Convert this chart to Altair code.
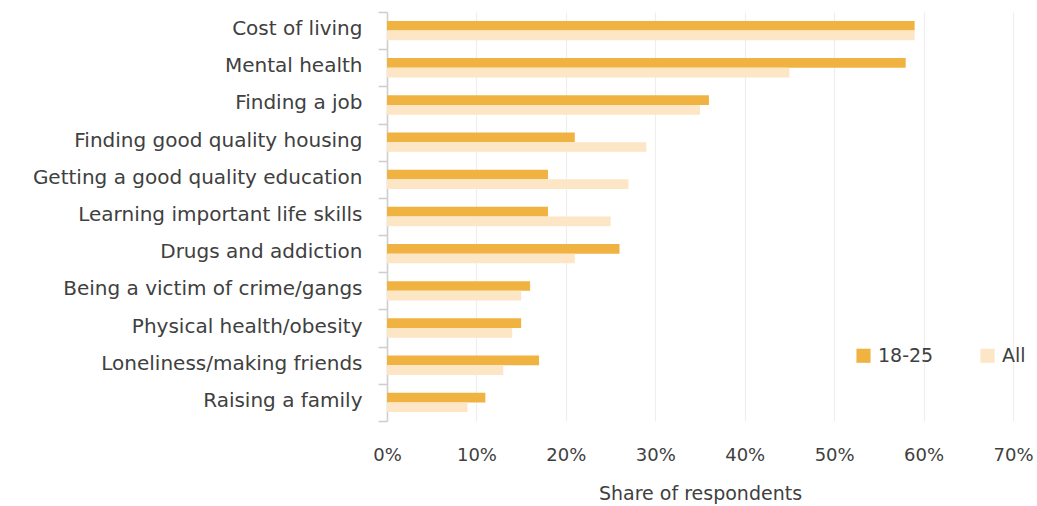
import altair as alt
import pandas as pd

categories = [
    "Cost of living", "Mental health", "Finding a job",
    "Finding good quality housing", "Getting a good quality education",
    "Learning important life skills", "Drugs and addiction",
    "Being a victim of crime/gangs", "Physical health/obesity",
    "Loneliness/making friends", "Raising a family",
]
young = [59, 58, 36, 21, 18, 18, 26, 16, 15, 17, 11]
all_resp = [59, 45, 35, 29, 27, 25, 21, 15, 14, 13, 9]
groups = ["18-25", "All"]
colors = ["#f0b342", "#fce6c5"]

rows = []
for c, a, b in zip(categories, young, all_resp):
    rows.append({"issue": c, "group": "18-25", "share": a})
    rows.append({"issue": c, "group": "All", "share": b})
df = pd.DataFrame(rows)

FONT = "DejaVu Sans"
TXT = "#404040"

chart = alt.Chart(df).mark_bar().encode(
    x=alt.X("share:Q",
            scale=alt.Scale(domain=[0, 70], nice=False),
            axis=alt.Axis(values=[0, 10, 20, 30, 40, 50, 60, 70],
                          labelExpr="datum.value + '%'",
                          title="Share of respondents",
                          domain=False, ticks=False, labelFlush=False,
                          labelPadding=25, titlePadding=20,
                          labelFontSize=18, titleFontSize=19,
                          labelColor=TXT, titleColor=TXT,
                          labelFont=FONT, titleFont=FONT, titleFontWeight="normal",
                          grid=True, gridColor="#eeeeee", gridWidth=1.2)),
    y=alt.Y("issue:N", sort=categories,
            scale=alt.Scale(paddingInner=0, paddingOuter=0),
            axis=alt.Axis(title=None, tickBand="extent", grid=False,
                          domainColor="#cfcfcf", domainWidth=1.6,
                          tickColor="#cfcfcf", tickWidth=1.6, tickSize=9,
                          labelFontSize=20, labelColor=TXT, labelFont=FONT,
                          labelPadding=16, labelLimit=400, labelOffset=-2)),
    yOffset=alt.YOffset("group:N", sort=groups,
                        scale=alt.Scale(paddingInner=0, paddingOuter=0.92)),
    color=alt.Color("group:N", sort=groups,
                    scale=alt.Scale(domain=groups, range=colors),
                    legend=alt.Legend(title=None, orient="none",
                                      legendX=467, legendY=334,
                                      direction="horizontal",
                                      symbolType="square", symbolSize=200,
                                      symbolStrokeWidth=0,
                                      labelFontSize=19, labelColor=TXT,
                                      labelFont=FONT, columnPadding=44,
                                      labelOffset=5)),
).properties(
    width=626, height=409,
    autosize=alt.AutoSizeParams(type="none"),
    padding={"left": 387, "top": 12, "right": 24, "bottom": 85},
).configure_view(stroke=None)

chart.save("out.html", embed_options={"renderer": "svg", "actions": False})
